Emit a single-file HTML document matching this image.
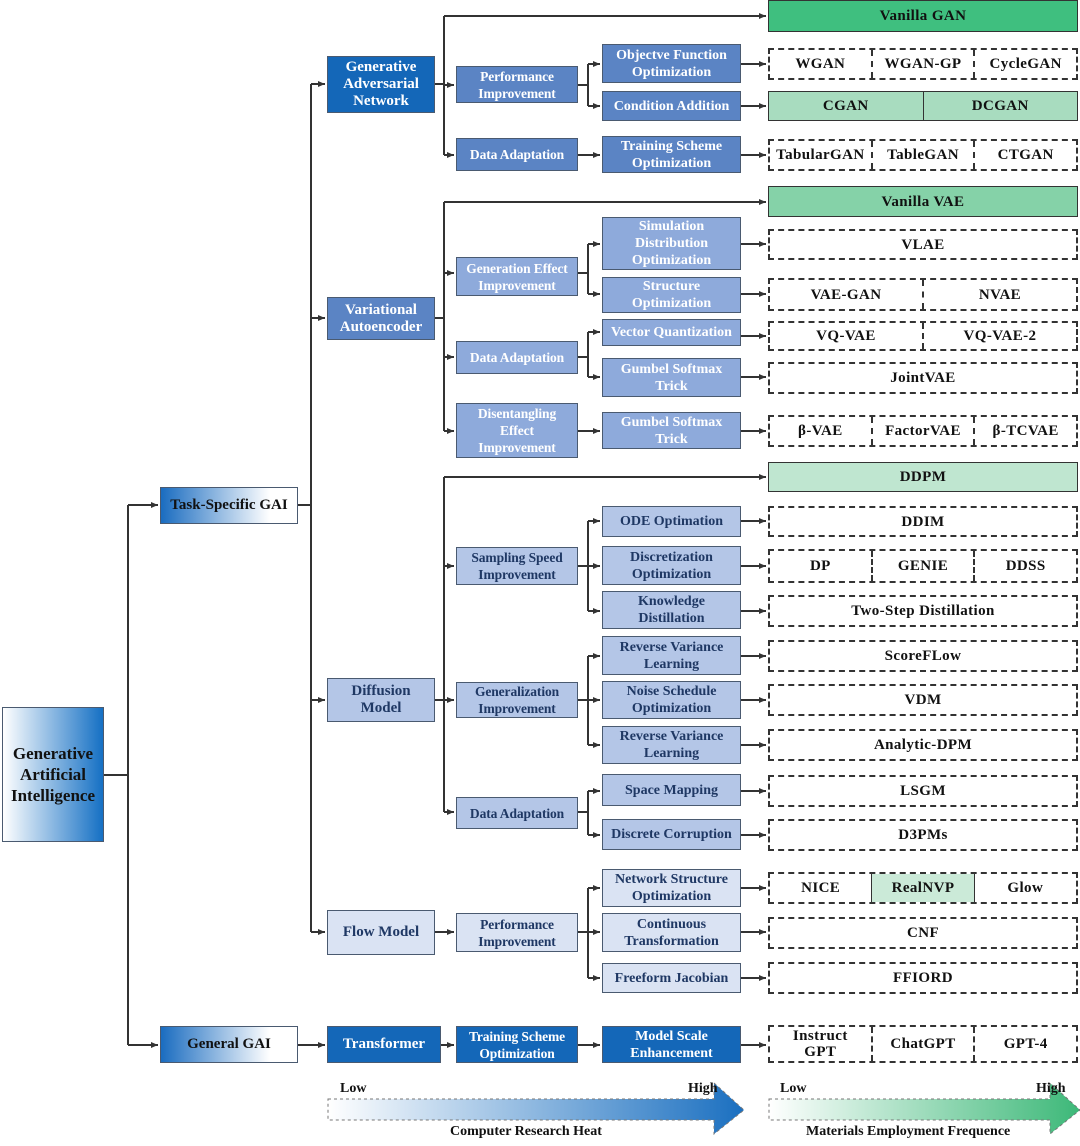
<!DOCTYPE html>
<html><head><meta charset="utf-8">
<style>
body{margin:0;width:1080px;height:1146px;background:#fff;position:relative;overflow:hidden;font-family:"Liberation Serif",serif;}
.b{position:absolute;display:flex;align-items:center;justify-content:center;text-align:center;font-weight:bold;font-size:14px;line-height:17px;box-sizing:border-box;border:1px solid #4a5a70;}
.n{font-size:13.5px;letter-spacing:-0.1px;}
.d{background:#1467b8;color:#fff;}
.m{background:#5b84c4;color:#fff;}
.l{background:#8eaadb;color:#fff;}
.ll{background:#b4c6e7;color:#1f3864;}
.lll{background:#dae3f3;color:#1f3864;}
.r{position:absolute;display:flex;box-sizing:border-box;border:2px dashed #333;font-weight:bold;font-size:15px;letter-spacing:0.4px;color:#111;}
.r div{flex:1;display:flex;align-items:center;justify-content:center;text-align:center;line-height:16px;}
.r div+div{border-left:2px dashed #333;}
.g{border-style:solid;border-width:1.5px;}
.g div+div{border-left:1.5px solid #333;}
svg{position:absolute;left:0;top:0;}
.t{position:absolute;font-weight:bold;font-size:14px;color:#111;}
</style></head><body>
<svg width="1080" height="1146">
<defs><marker id="a" markerWidth="8" markerHeight="8" refX="7" refY="4" orient="auto" markerUnits="userSpaceOnUse"><path d="M0,1 L7,4 L0,7 z" fill="#333"/></marker>
<linearGradient id="bg" x1="0" x2="1"><stop offset="0" stop-color="#fff"/><stop offset="1" stop-color="#1a6fc0"/></linearGradient>
<linearGradient id="gg" x1="0" x2="1"><stop offset="0" stop-color="#fff"/><stop offset="1" stop-color="#3cb878"/></linearGradient></defs>
<g stroke="#333" stroke-width="2" fill="none">
<path d="M104,775 H128 M128,505 V1045"/>
<path d="M128,505 H158" marker-end="url(#a)"/><path d="M128,1045 H158" marker-end="url(#a)"/>
<path d="M298,505 H311 M311,84 V932"/>
<path d="M311,84 H325" marker-end="url(#a)"/><path d="M311,318 H325" marker-end="url(#a)"/><path d="M311,700 H325" marker-end="url(#a)"/><path d="M311,932 H325" marker-end="url(#a)"/>
<path d="M435,84 H444 M444,16 V155"/>
<path d="M444,16 H766" marker-end="url(#a)"/><path d="M444,85 H454" marker-end="url(#a)"/><path d="M444,155 H454" marker-end="url(#a)"/>
<path d="M578,85 H588 M588,64 V106"/><path d="M588,64 H600" marker-end="url(#a)"/><path d="M588,106 H600" marker-end="url(#a)"/>
<path d="M578,155 H600" marker-end="url(#a)"/>
<path d="M741,64 H766" marker-end="url(#a)"/><path d="M741,106 H766" marker-end="url(#a)"/><path d="M741,155 H766" marker-end="url(#a)"/>
<path d="M435,318 H444 M444,202 V431"/>
<path d="M444,202 H766" marker-end="url(#a)"/><path d="M444,273 H454" marker-end="url(#a)"/><path d="M444,357 H454" marker-end="url(#a)"/><path d="M444,431 H454" marker-end="url(#a)"/>
<path d="M578,273 H588 M588,244 V294"/><path d="M588,244 H600" marker-end="url(#a)"/><path d="M588,294 H600" marker-end="url(#a)"/>
<path d="M578,357 H588 M588,332 V377"/><path d="M588,332 H600" marker-end="url(#a)"/><path d="M588,377 H600" marker-end="url(#a)"/>
<path d="M578,431 H600" marker-end="url(#a)"/>
<path d="M741,244 H766" marker-end="url(#a)"/><path d="M741,294 H766" marker-end="url(#a)"/><path d="M741,336 H766" marker-end="url(#a)"/><path d="M741,377 H766" marker-end="url(#a)"/><path d="M741,431 H766" marker-end="url(#a)"/>
<path d="M435,700 H444 M444,477 V812"/>
<path d="M444,477 H766" marker-end="url(#a)"/><path d="M444,566 H454" marker-end="url(#a)"/><path d="M444,700 H454" marker-end="url(#a)"/><path d="M444,812 H454" marker-end="url(#a)"/>
<path d="M578,566 H588 M588,521 V611"/><path d="M588,521 H600" marker-end="url(#a)"/><path d="M588,566 H600" marker-end="url(#a)"/><path d="M588,611 H600" marker-end="url(#a)"/>
<path d="M578,700 H588 M588,656 V745"/><path d="M588,656 H600" marker-end="url(#a)"/><path d="M588,700 H600" marker-end="url(#a)"/><path d="M588,745 H600" marker-end="url(#a)"/>
<path d="M578,812 H588 M588,791 V835"/><path d="M588,791 H600" marker-end="url(#a)"/><path d="M588,835 H600" marker-end="url(#a)"/>
<path d="M741,521 H766" marker-end="url(#a)"/><path d="M741,566 H766" marker-end="url(#a)"/><path d="M741,611 H766" marker-end="url(#a)"/><path d="M741,656 H766" marker-end="url(#a)"/><path d="M741,700 H766" marker-end="url(#a)"/><path d="M741,745 H766" marker-end="url(#a)"/><path d="M741,791 H766" marker-end="url(#a)"/><path d="M741,835 H766" marker-end="url(#a)"/>
<path d="M435,932 H454" marker-end="url(#a)"/>
<path d="M578,932 H588 M588,888 V978"/><path d="M588,888 H600" marker-end="url(#a)"/><path d="M588,932 H600" marker-end="url(#a)"/><path d="M588,978 H600" marker-end="url(#a)"/>
<path d="M741,888 H766" marker-end="url(#a)"/><path d="M741,932 H766" marker-end="url(#a)"/><path d="M741,978 H766" marker-end="url(#a)"/>
<path d="M298,1045 H325" marker-end="url(#a)"/><path d="M441,1045 H454" marker-end="url(#a)"/><path d="M578,1045 H600" marker-end="url(#a)"/><path d="M741,1045 H766" marker-end="url(#a)"/>
</g>
<path d="M328,1099 H714 V1083 L744,1110 L714,1134 V1120 H328 Z" fill="url(#bg)" stroke="#777" stroke-dasharray="3,3" stroke-width="1"/>
<path d="M769,1099 H1050 V1083 L1080,1110 L1050,1134 V1120 H769 Z" fill="url(#gg)" stroke="#777" stroke-dasharray="3,3" stroke-width="1"/>
</svg>

<div class="b" style="left:2px;top:707px;width:102px;height:135px;background:linear-gradient(90deg,#fff,#1570c4);color:#111;font-size:17px;line-height:21px;">Generative<br>Artificial<br>Intelligence</div>
<div class="b" style="left:160px;top:487px;width:138px;height:37px;background:linear-gradient(90deg,#1a6cc0,#fff 80%);color:#111;font-size:15px;">Task-Specific GAI</div>
<div class="b" style="left:160px;top:1026px;width:138px;height:37px;background:linear-gradient(90deg,#1a6cc0,#fff 80%);color:#111;font-size:15px;">General GAI</div>

<div class="b d" style="left:327px;top:56px;width:108px;height:57px;font-size:15px;">Generative<br>Adversarial<br>Network</div>
<div class="b m" style="left:327px;top:297px;width:108px;height:43px;font-size:15px;">Variational<br>Autoencoder</div>
<div class="b ll" style="left:327px;top:678px;width:108px;height:44px;font-size:15px;">Diffusion<br>Model</div>
<div class="b lll" style="left:327px;top:910px;width:108px;height:45px;font-size:15px;">Flow Model</div>

<div class="b m n" style="left:456px;top:66px;width:122px;height:37px;">Performance<br>Improvement</div>
<div class="b m n" style="left:456px;top:138px;width:122px;height:33px;">Data Adaptation</div>
<div class="b m" style="left:602px;top:44px;width:139px;height:39px;">Objectve Function<br>Optimization</div>
<div class="b m" style="left:602px;top:91px;width:139px;height:30px;">Condition Addition</div>
<div class="b m" style="left:602px;top:136px;width:139px;height:37px;">Training Scheme<br>Optimization</div>

<div class="b l n" style="left:456px;top:257px;width:122px;height:39px;">Generation Effect<br>Improvement</div>
<div class="b l n" style="left:456px;top:341px;width:122px;height:33px;">Data Adaptation</div>
<div class="b l n" style="left:456px;top:403px;width:122px;height:55px;">Disentangling<br>Effect<br>Improvement</div>
<div class="b l" style="left:602px;top:217px;width:139px;height:53px;">Simulation<br>Distribution<br>Optimization</div>
<div class="b l" style="left:602px;top:277px;width:139px;height:36px;">Structure<br>Optimization</div>
<div class="b l" style="left:602px;top:319px;width:139px;height:27px;">Vector Quantization</div>
<div class="b l" style="left:602px;top:358px;width:139px;height:39px;">Gumbel Softmax<br>Trick</div>
<div class="b l" style="left:602px;top:412px;width:139px;height:37px;">Gumbel Softmax<br>Trick</div>

<div class="b ll n" style="left:456px;top:547px;width:122px;height:38px;">Sampling Speed<br>Improvement</div>
<div class="b ll n" style="left:456px;top:682px;width:122px;height:36px;">Generalization<br>Improvement</div>
<div class="b ll n" style="left:456px;top:797px;width:122px;height:32px;">Data Adaptation</div>
<div class="b ll" style="left:602px;top:506px;width:139px;height:31px;">ODE Optimation</div>
<div class="b ll" style="left:602px;top:546px;width:139px;height:39px;">Discretization<br>Optimization</div>
<div class="b ll" style="left:602px;top:591px;width:139px;height:38px;">Knowledge<br>Distillation</div>
<div class="b ll" style="left:602px;top:636px;width:139px;height:39px;">Reverse Variance<br>Learning</div>
<div class="b ll" style="left:602px;top:681px;width:139px;height:38px;">Noise Schedule<br>Optimization</div>
<div class="b ll" style="left:602px;top:726px;width:139px;height:38px;">Reverse Variance<br>Learning</div>
<div class="b ll" style="left:602px;top:774px;width:139px;height:32px;">Space Mapping</div>
<div class="b ll" style="left:602px;top:819px;width:139px;height:31px;">Discrete Corruption</div>

<div class="b lll n" style="left:456px;top:913px;width:122px;height:39px;">Performance<br>Improvement</div>
<div class="b lll" style="left:602px;top:869px;width:139px;height:38px;">Network Structure<br>Optimization</div>
<div class="b lll" style="left:602px;top:913px;width:139px;height:39px;">Continuous<br>Transformation</div>
<div class="b lll" style="left:602px;top:963px;width:139px;height:30px;">Freeform Jacobian</div>

<div class="b d" style="left:327px;top:1026px;width:114px;height:37px;font-size:15px;">Transformer</div>
<div class="b d n" style="left:456px;top:1026px;width:122px;height:37px;">Training Scheme<br>Optimization</div>
<div class="b d" style="left:602px;top:1026px;width:139px;height:37px;">Model Scale<br>Enhancement</div>

<div class="r g" style="left:768px;top:0px;width:310px;height:32px;background:#3fbf7f;"><div>Vanilla GAN</div></div>
<div class="r" style="left:768px;top:48px;width:310px;height:32px;"><div>WGAN</div><div>WGAN-GP</div><div>CycleGAN</div></div>
<div class="r g" style="left:768px;top:91px;width:310px;height:30px;background:#a8dcbf;"><div>CGAN</div><div>DCGAN</div></div>
<div class="r" style="left:768px;top:139px;width:310px;height:32px;"><div>TabularGAN</div><div>TableGAN</div><div>CTGAN</div></div>

<div class="r g" style="left:768px;top:186px;width:310px;height:31px;background:#85d2a8;"><div>Vanilla VAE</div></div>
<div class="r" style="left:768px;top:229px;width:310px;height:31px;"><div>VLAE</div></div>
<div class="r" style="left:768px;top:278px;width:310px;height:33px;"><div>VAE-GAN</div><div>NVAE</div></div>
<div class="r" style="left:768px;top:321px;width:310px;height:30px;"><div>VQ-VAE</div><div>VQ-VAE-2</div></div>
<div class="r" style="left:768px;top:362px;width:310px;height:32px;"><div>JointVAE</div></div>
<div class="r" style="left:768px;top:415px;width:310px;height:32px;"><div>β-VAE</div><div>FactorVAE</div><div>β-TCVAE</div></div>

<div class="r g" style="left:768px;top:462px;width:310px;height:30px;background:#bfe6d0;"><div>DDPM</div></div>
<div class="r" style="left:768px;top:506px;width:310px;height:31px;"><div>DDIM</div></div>
<div class="r" style="left:768px;top:549px;width:310px;height:34px;"><div>DP</div><div>GENIE</div><div>DDSS</div></div>
<div class="r" style="left:768px;top:595px;width:310px;height:32px;"><div>Two-Step Distillation</div></div>
<div class="r" style="left:768px;top:640px;width:310px;height:32px;"><div>ScoreFLow</div></div>
<div class="r" style="left:768px;top:684px;width:310px;height:32px;"><div>VDM</div></div>
<div class="r" style="left:768px;top:729px;width:310px;height:32px;"><div>Analytic-DPM</div></div>
<div class="r" style="left:768px;top:775px;width:310px;height:32px;"><div>LSGM</div></div>
<div class="r" style="left:768px;top:819px;width:310px;height:32px;"><div>D3PMs</div></div>

<div class="r" style="left:768px;top:872px;width:310px;height:32px;"><div>NICE</div><div style="background:#cbead8;border-left:1.5px solid #333;border-right:1.5px solid #333;">RealNVP</div><div style="border-left:none">Glow</div></div>
<div class="r" style="left:768px;top:917px;width:310px;height:32px;"><div>CNF</div></div>
<div class="r" style="left:768px;top:962px;width:310px;height:32px;"><div>FFIORD</div></div>
<div class="r" style="left:768px;top:1025px;width:310px;height:38px;"><div>Instruct<br>GPT</div><div>ChatGPT</div><div>GPT-4</div></div>

<div class="t" style="left:340px;top:1081px;">Low</div>
<div class="t" style="left:688px;top:1081px;">High</div>
<div class="t" style="left:450px;top:1124px;">Computer Research Heat</div>
<div class="t" style="left:780px;top:1081px;">Low</div>
<div class="t" style="left:1036px;top:1081px;">High</div>
<div class="t" style="left:806px;top:1124px;">Materials Employment Frequence</div>
</body></html>
